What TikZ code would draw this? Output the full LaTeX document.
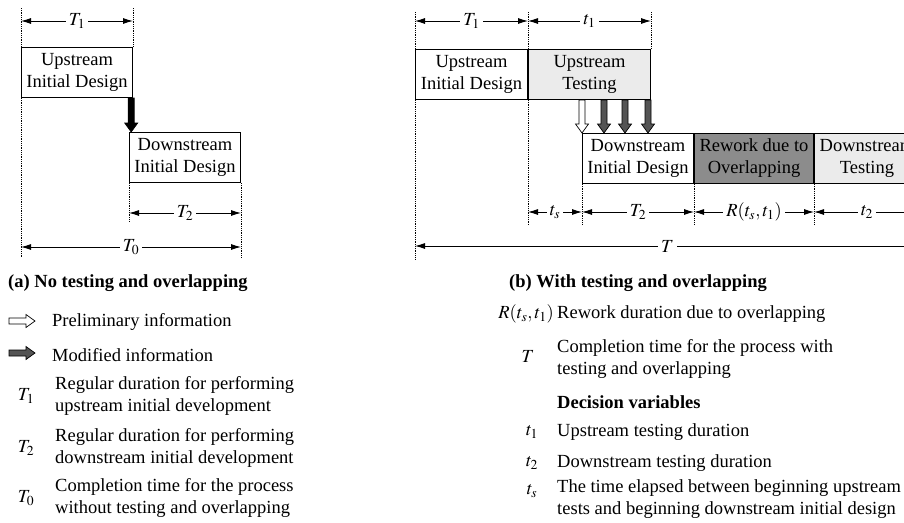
\documentclass[tikz,border=0pt]{standalone}
\usepackage{mathptmx}
\usepackage{fontspec}
\setmainfont{Liberation Serif}
\usetikzlibrary{arrows.meta,calc,positioning}

\definecolor{testfill}{gray}{0.92}
\definecolor{reworkfill}{gray}{0.55}
\definecolor{modfill}{gray}{0.33}

\tikzset{
  box/.style={draw, line width=1pt, minimum height=50pt, inner sep=0pt, align=center, anchor=north west},
  guide/.style={densely dotted, line width=0.8pt},
  dim/.style={{Latex[length=10pt,width=6pt]}-{Latex[length=10pt,width=6pt]}, line width=0.9pt},
  dimlabel/.style={fill=white, inner sep=3pt, midway},
  legtext/.style={anchor=west, align=left, inner sep=0pt},
  infoarrow/.style={draw, line width=0.7pt, to path={
      let \p1=(\tikztostart), \p2=(\tikztotarget), \p3=($(\p2)!9pt!(\p1)$) in
      ($(\p1)!3pt!90:(\p2)$) -- ($(\p3)!3pt!90:(\p2)$) -- ($(\p3)!6.5pt!90:(\p2)$) -- (\p2)
      -- ($(\p3)!6.5pt!-90:(\p2)$) -- ($(\p3)!3pt!-90:(\p2)$) -- ($(\p1)!3pt!-90:(\p2)$) -- cycle}},
}

\begin{document}
\begin{tikzpicture}[x=1pt, y=-1pt, font=\fontsize{18.5}{22}\selectfont]
  \useasboundingbox (0,0) rectangle (904,522);
  \clip (0,0) rectangle (904,522);

  % (a) no testing and overlapping
  \node[box, minimum width=111pt] (upA) at (21,47) {Upstream\\Initial Design};
  \node[box, minimum width=111pt] (dnA) at (129,132) {Downstream\\Initial Design};
  \coordinate (infA) at ([xshift=-1.8pt]upA.south east);
  \draw[infoarrow, fill=black] (infA) to (infA |- dnA.north);

  \draw[guide] (upA.west |- 0,8) -- (upA.west |- 0,257);
  \draw[guide] (upA.east |- 0,8) -- (upA.north east);
  \draw[guide] (dnA.south west) -- (dnA.west |- 0,221);
  \draw[guide] (dnA.south east) -- (dnA.east |- 0,257);
  \draw[dim] (upA.west |- 0,21) -- node[dimlabel] {$T_1$} (upA.east |- 0,21);
  \draw[dim] (dnA.west |- 0,213) -- node[dimlabel] {$T_2$} (dnA.east |- 0,213);
  \draw[dim] (upA.west |- 0,247) -- node[dimlabel] {$T_0$} (dnA.east |- 0,247);

  % (b) with testing and overlapping
  \node[box, minimum width=112pt] (upB) at (415,49) {Upstream\\Initial Design};
  \node[box, minimum width=122pt, fill=testfill] (testB) at (upB.north east) {Upstream\\Testing};
  \node[box, minimum width=111pt] (dnB) at (582,133) {Downstream\\Initial Design};
  \node[box, minimum width=119pt, fill=reworkfill] (reworkB) at (dnB.north east) {Rework due to\\Overlapping};
  \node[box, minimum width=105pt, fill=testfill] (dtestB) at (reworkB.north east) {Downstream\\Testing};

  \draw[infoarrow, fill=white] (dnB.west |- testB.south) to (dnB.north west);
  \foreach \dx in {3,26,47} {
    \coordinate (modB) at ([xshift=-\dx pt]testB.south east);
    \draw[infoarrow, fill=modfill] (modB) to (modB |- dnB.north);
  }

  \draw[guide] (upB.west |- 0,12) -- (upB.west |- 0,260);
  \draw[guide] (upB.east |- 0,12) -- (upB.north east);
  \draw[guide] (upB.south east) -- (upB.east |- 0,225);
  \draw[guide] (testB.east |- 0,12) -- (testB.north east);
  \foreach \b in {dnB,reworkB,dtestB} {
    \draw[guide] (\b.south west) -- (\b.west |- 0,225);
  }
  \draw[dim] (upB.west |- 0,21) -- node[dimlabel] {$T_1$} (upB.east |- 0,21);
  \draw[dim] (testB.west |- 0,21) -- node[dimlabel] {$t_1$} (testB.east |- 0,21);
  \draw[dim] (testB.west |- 0,212) -- node[dimlabel] {$t_s$} (dnB.west |- 0,212);
  \draw[dim] (dnB.west |- 0,212) -- node[dimlabel] {$T_2$} (dnB.east |- 0,212);
  \draw[dim] (reworkB.west |- 0,212) -- node[dimlabel] {$R(t_s,t_1)$} (reworkB.east |- 0,212);
  \draw[dim] (dtestB.west |- 0,212) -- node[dimlabel] {$t_2$} (dtestB.east |- 0,212);
  \draw[dim] (upB.west |- 0,246) -- node[dimlabel] {$T$} (dtestB.east |- 0,246);

  % captions
  \node[legtext, font=\fontsize{18.5}{22}\selectfont\bfseries] (capA) at (8,283) {(a) No testing and overlapping};
  \node[legtext, font=\fontsize{18.5}{22}\selectfont\bfseries] (capB) at (509,283) {(b) With testing and overlapping};

  % legend (a)
  \coordinate (preS) at (9,321);
  \coordinate (preE) at (35,321);
  \draw[infoarrow, fill=white] (preS) to (preE);
  \coordinate (modS) at (9,353);
  \coordinate (modE) at (35,353);
  \draw[infoarrow, fill=modfill] (modS) to (modE);
  \node[legtext] (legPre) at (52,322) {Preliminary information};
  \node[legtext] (legMod) at (52,355) {Modified information};
  \node (symT1) at (26,396) {$T_1$};
  \node[legtext] (legT1) at (55,396) {Regular duration for performing\\upstream initial development};
  \node (symT2) at (26,448) {$T_2$};
  \node[legtext] (legT2) at (55,448) {Regular duration for performing\\downstream initial development};
  \node (symT0) at (26,498) {$T_0$};
  \node[legtext] (legT0) at (55,498) {Completion time for the process\\without testing and overlapping};

  % legend (b)
  \node[anchor=east, inner sep=0pt] (symR) at (554,314) {$R(t_s,t_1)$};
  \node[legtext] (legR) at (557,314) {Rework duration due to overlapping};
  \node (symT) at (528,356) {$T$};
  \node[legtext] (legT) at (557,359) {Completion time for the process with\\testing and overlapping};
  \node[legtext, font=\fontsize{18.5}{22}\selectfont\bfseries] (legDec) at (557,402) {Decision variables};
  \node (symt1) at (532,432) {$t_1$};
  \node[legtext] (legt1) at (557,432) {Upstream testing duration};
  \node (symt2) at (532,463) {$t_2$};
  \node[legtext] (legt2) at (557,463) {Downstream testing duration};
  \node (symts) at (532,491) {$t_s$};
  \node[legtext] (legts) at (557,499) {The time elapsed between beginning upstream\\tests and beginning downstream initial design};
\end{tikzpicture}
\end{document}
